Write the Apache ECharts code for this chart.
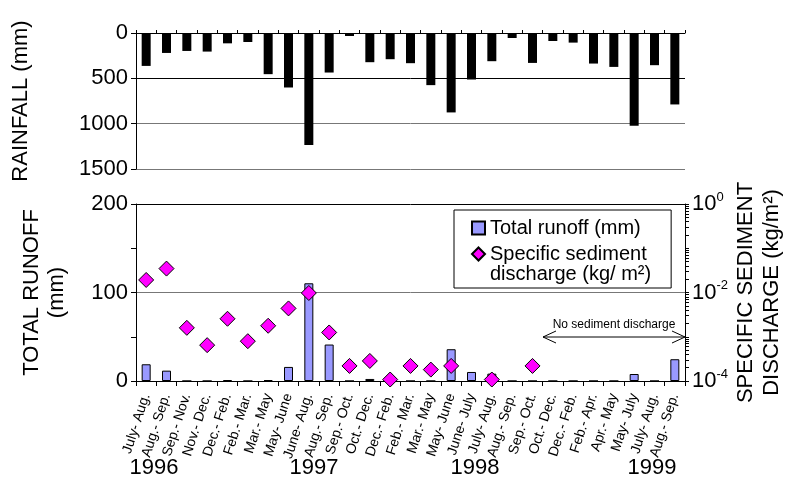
<!DOCTYPE html>
<html><head><meta charset="utf-8">
<script src="https://cdn.jsdelivr.net/npm/echarts@6/dist/echarts.min.js"></script>
<style>html,body{margin:0;padding:0;background:#fff}#c{width:790px;height:491px}</style>
</head><body><div id="c"></div>
<script>
const categories = ['July- Aug.','Aug.- Sep.','Sep.- Nov.','Nov.- Dec.','Dec.- Feb.','Feb.- Mar.','Mar.- May','May- June','June- Aug.','Aug.- Sep.','Sep.- Oct.','Oct.- Dec.','Dec.- Feb.','Feb.- Mar.','Mar.- May','May- June','June- July','July- Aug.','Aug.- Sep.','Sep.- Oct.','Oct.- Dec.','Dec.- Feb.','Feb.- Apr.','Apr.- May','May- July','July- Aug.','Aug.- Sep.'];
const rainfall = [363,220,198,205,114,99,454,601,1235,436,33,322,289,333,575,876,513,311,55,330,88,106,337,374,1022,355,788];
const runoff = [18.9,11.7,0,0,1.1,0,1,15.9,110.4,41.2,0,2.3,0,0,0,35.9,10.2,8.3,0,0,0,0,0,0,7.9,0,24.6];
const sediment = [0.0192,0.0347,0.00159,0.000646,0.00255,0.000794,0.00177,0.00437,0.00975,0.00125,0.000219,0.000284,0.000108,0.000219,0.000181,0.000219,'-',0.000108,'-',0.000219,'-','-','-','-','-','-','-'];
const sedimentLabelValues = [1e-4, 1e-2, 1];
const sedimentTicks = [1];
[1e-4, 1e-3, 1e-2, 1e-1].forEach(d => { for (let k = 1; k <= 9; k++) sedimentTicks.push(d * k); });
const years = ['1996', '1997', '1998', '1999'];
const runoffName = 'Total runoff (mm)';
const sedimentName = 'Specific sediment discharge (kg/ m\u00b2)';
const sedimentLegendLines = ['Specific sediment', 'discharge (kg/ m\u00b2)'];
const noSedimentText = 'No sediment discharge';

const FONT = '"Liberation Sans", Arial, sans-serif';
const chart = echarts.init(document.getElementById('c'), null, {renderer: 'canvas'});

const yearX = [154, 314, 475, 652];
const graphics = years.map((y, i) => ({
  type: 'text', x: yearX[i], y: 468,
  style: {text: y, font: '22px ' + FONT, fill: '#000', align: 'center', verticalAlign: 'middle'}
}));
graphics.push(
  {type: 'line', shape: {x1: 543, y1: 337, x2: 685, y2: 337}, style: {stroke: '#000', lineWidth: 1}},
  {type: 'polyline', shape: {points: [[556, 331], [543, 337], [556, 343]]}, style: {stroke: '#000', lineWidth: 1, fill: null}},
  {type: 'polyline', shape: {points: [[672, 331], [685, 337], [672, 343]]}, style: {stroke: '#000', lineWidth: 1, fill: null}},
  {type: 'text', x: 614, y: 325, style: {text: noSedimentText, font: '12px ' + FONT, fill: '#000', align: 'center', verticalAlign: 'middle'}}
);

const option = {
  backgroundColor: '#fff',
  animation: false,
  textStyle: {fontFamily: FONT},
  grid: [
    {left: 136, right: 105, top: 33, height: 136, outerBoundsMode: 'none', containLabel: false},
    {left: 136, right: 105, top: 204, height: 177, outerBoundsMode: 'none', containLabel: false}
  ],
  legend: {
    left: 454, top: 210, orient: 'vertical',
    backgroundColor: '#fff', borderColor: '#000', borderWidth: 1,
    padding: [8, 20, 4, 17], itemGap: -14, itemWidth: 13, itemHeight: 13,
    textStyle: {fontSize: 20, color: '#000', fontFamily: FONT,
      rich: {t: {fontSize: 20, lineHeight: 20, color: '#000', fontFamily: FONT},
             e: {fontSize: 20, lineHeight: 20, color: '#000', fontFamily: FONT}}},
    formatter: name => name === sedimentName
      ? '{e|\u00a0}\n{t|' + sedimentLegendLines[0] + '}\n{t|' + sedimentLegendLines[1] + '}'
      : '{t|' + name + '}',
    data: [
      {name: runoffName, icon: 'rect'},
      {name: sedimentName, icon: 'diamond'}
    ]
  },
  xAxis: [
    {type: 'category', gridIndex: 0, data: categories, position: 'top',
     axisLine: {lineStyle: {color: '#000', width: 1}},
     axisTick: {show: true, length: 3, lineStyle: {color: '#000'}, interval: 0},
     axisLabel: {show: false}},
    {type: 'category', gridIndex: 1, data: categories, position: 'bottom',
     axisLine: {lineStyle: {color: '#000', width: 1}},
     axisTick: {show: true, length: 5, lineStyle: {color: '#000'}, interval: 0},
     axisLabel: {interval: 0, rotate: 72, fontSize: 14, color: '#000', margin: 13, fontFamily: FONT}}
  ],
  yAxis: [
    {type: 'value', gridIndex: 0, inverse: true, min: 0, max: 1500, interval: 500,
     name: 'RAINFALL (mm)', nameLocation: 'middle', nameGap: 104, nameMoveOverlap: false,
     nameTextStyle: {fontSize: 22, color: '#000', fontFamily: FONT},
     axisLine: {show: true, lineStyle: {color: '#000'}},
     axisTick: {show: true, length: 5, lineStyle: {color: '#000'}},
     axisLabel: {fontSize: 22, color: '#000', margin: 8, fontFamily: FONT, formatter: v => String(v)},
     splitLine: {show: true, lineStyle: {color: ['#000', '#000', '#777', '#777'], width: 1}}},
    {type: 'value', gridIndex: 1, min: 0, max: 200, interval: 100,
     name: 'TOTAL RUNOFF\n(mm)', nameLocation: 'middle', nameGap: 67, nameMoveOverlap: false,
     nameTextStyle: {fontSize: 22, color: '#000', fontFamily: FONT, lineHeight: 25},
     axisLine: {show: true, lineStyle: {color: '#000'}},
     axisTick: {show: true, length: 5, lineStyle: {color: '#000'}},
     minorTick: {show: true, splitNumber: 2, length: 5, lineStyle: {color: '#000'}},
     axisLabel: {fontSize: 22, color: '#000', margin: 8, fontFamily: FONT, formatter: v => String(v)},
     splitLine: {show: true, lineStyle: {color: ['#000', '#777', '#000'], width: 1}}},
    {type: 'log', gridIndex: 1, logBase: 10, min: 1e-4, max: 1, position: 'right',
     name: 'SPECIFIC SEDIMENT\nDISCHARGE (kg/m\u00b2)', nameLocation: 'middle', nameGap: 48, nameMoveOverlap: false,
     nameTextStyle: {fontSize: 22, color: '#000', fontFamily: FONT, lineHeight: 26},
     axisLine: {show: true, lineStyle: {color: '#000'}},
     axisTick: {show: true, length: 4, inside: false, customValues: sedimentTicks, lineStyle: {color: '#000'}},
     axisLabel: {customValues: sedimentLabelValues, margin: 7, color: '#000',
       formatter: v => '{b|10}{s|' + Math.round(Math.log10(v)) + '}',
       rich: {b: {fontSize: 22, fontFamily: FONT, color: '#000'},
              s: {fontSize: 13, fontFamily: FONT, color: '#000', padding: [0, 0, 14, 0]}}},
     splitLine: {show: false}}
  ],
  series: [
    {type: 'bar', name: 'Rainfall', xAxisIndex: 0, yAxisIndex: 0, data: rainfall, barWidth: 9,
     itemStyle: {color: '#000'}},
    {type: 'bar', name: runoffName, xAxisIndex: 1, yAxisIndex: 1, data: runoff, barWidth: 9,
     itemStyle: {color: '#9999ff', borderColor: '#000', borderWidth: 1}},
    {type: 'scatter', name: sedimentName, xAxisIndex: 1, yAxisIndex: 2, data: sediment,
     symbol: 'diamond', symbolSize: 15,
     itemStyle: {color: '#ff00ff', borderColor: '#000', borderWidth: 1, opacity: 1}}
  ],
  graphic: graphics
};
chart.setOption(option);
</script></body></html>
